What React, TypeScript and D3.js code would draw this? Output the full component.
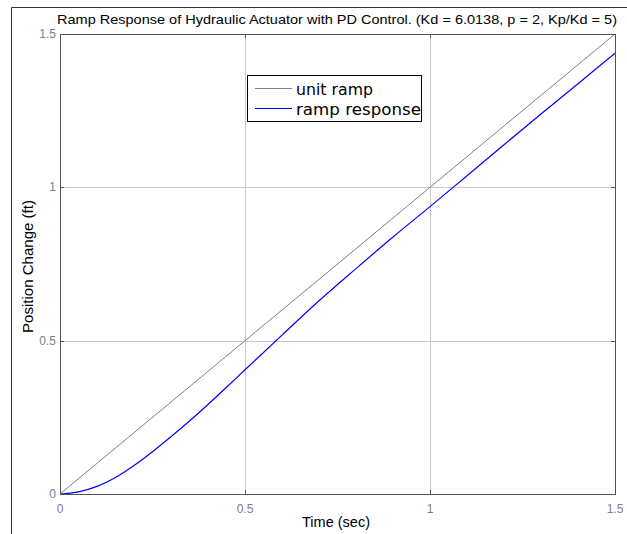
import React, { useEffect, useRef } from "react";
import * as d3 from "d3";

const title =
  "Ramp Response of Hydraulic Actuator with PD Control. (Kd = 6.0138, p = 2, Kp/Kd = 5)";
const xLabel = "Time (sec)";
const yLabel = "Position Change (ft)";

const xTicks = [0, 0.5, 1, 1.5];
const yTicks = [0, 0.5, 1, 1.5];

// unit ramp (input)
const rampT = [0, 1.5];
const rampY = [0, 1.5];

// ramp response
const respT = [0, 0.05, 0.1, 0.15, 0.2, 0.25, 0.3, 0.35, 0.4, 0.45, 0.5, 0.6, 0.7, 0.8, 0.9, 1.0, 1.1, 1.2, 1.3, 1.4, 1.5];
const respY = [0, 0.007, 0.025, 0.054, 0.093, 0.138, 0.187, 0.238, 0.292, 0.348, 0.405, 0.518, 0.63, 0.735, 0.838, 0.937, 1.038, 1.139, 1.239, 1.338, 1.437];

const legendNames = ["unit ramp", "ramp response"];
const legendColors = ["#808080", "#0000ff"];
const legendWidths = [77, 125];

const App = () => {
  const ref = useRef<SVGSVGElement>(null);

  useEffect(() => {
    const W = 627;
    const H = 534;
    const m = { left: 60, right: 615, top: 34, bottom: 494 };

    const svg = d3.select(ref.current);
    svg.selectAll("*").remove();

    const x = d3.scaleLinear().domain([0, 1.5]).range([m.left, m.right]);
    const y = d3.scaleLinear().domain([0, 1.5]).range([m.bottom, m.top]);

    svg.append("rect").attr("width", W).attr("height", H).attr("fill", "#fff");

    // figure frame (cropped)
    svg
      .append("path")
      .attr("d", `M11.5,${H} V7.5 H${W}`)
      .attr("fill", "none")
      .attr("stroke", "#333")
      .attr("stroke-width", 1);

    // grid
    const grid = svg.append("g").attr("stroke", "#c8c8c8").attr("stroke-width", 1);
    xTicks.slice(1, -1).forEach((t) => {
      grid
        .append("line")
        .attr("x1", Math.round(x(t)) + 0.5)
        .attr("x2", Math.round(x(t)) + 0.5)
        .attr("y1", m.top)
        .attr("y2", m.bottom);
    });
    yTicks.slice(1, -1).forEach((t) => {
      grid
        .append("line")
        .attr("y1", Math.round(y(t)) + 0.5)
        .attr("y2", Math.round(y(t)) + 0.5)
        .attr("x1", m.left)
        .attr("x2", m.right);
    });

    // lines
    const line = d3
      .line<[number, number]>()
      .x((d) => x(d[0]))
      .y((d) => y(d[1]));

    svg
      .append("path")
      .datum(rampT.map((t, i) => [t, rampY[i]] as [number, number]))
      .attr("d", line)
      .attr("fill", "none")
      .attr("stroke", legendColors[0])
      .attr("stroke-width", 1);

    svg
      .append("path")
      .datum(respT.map((t, i) => [t, respY[i]] as [number, number]))
      .attr("d", line.curve(d3.curveMonotoneX))
      .attr("fill", "none")
      .attr("stroke", legendColors[1])
      .attr("stroke-width", 1.2);

    // axes box
    svg
      .append("rect")
      .attr("x", m.left + 0.5)
      .attr("y", m.top + 0.5)
      .attr("width", m.right - m.left)
      .attr("height", m.bottom - m.top)
      .attr("fill", "none")
      .attr("stroke", "#555")
      .attr("stroke-width", 1);

    // inside ticks
    const ticks = svg.append("g").attr("stroke", "#555").attr("stroke-width", 1);
    xTicks.forEach((t) => {
      const px = Math.round(x(t)) + 0.5;
      ticks.append("line").attr("x1", px).attr("x2", px).attr("y1", m.bottom).attr("y2", m.bottom - 4);
      ticks.append("line").attr("x1", px).attr("x2", px).attr("y1", m.top).attr("y2", m.top + 4);
    });
    yTicks.forEach((t) => {
      const py = Math.round(y(t)) + 0.5;
      ticks.append("line").attr("x1", m.left).attr("x2", m.left + 4).attr("y1", py).attr("y2", py);
      ticks.append("line").attr("x1", m.right).attr("x2", m.right - 4).attr("y1", py).attr("y2", py);
    });

    const font = "Liberation Sans, Arial, sans-serif";

    // tick labels
    svg
      .append("g")
      .selectAll("text")
      .data(xTicks)
      .join("text")
      .attr("x", (d) => x(d))
      .attr("y", m.bottom + 19)
      .attr("text-anchor", "middle")
      .attr("font-family", font)
      .attr("font-size", 12)
      .attr("fill", "#808080")
      .text((d) => String(d));

    svg
      .append("g")
      .selectAll("text")
      .data(yTicks)
      .join("text")
      .attr("x", m.left - 4)
      .attr("y", (d) => y(d) + 4)
      .attr("text-anchor", "end")
      .attr("font-family", font)
      .attr("font-size", 12)
      .attr("fill", "#808080")
      .text((d) => String(d));

    // title & labels
    svg
      .append("text")
      .attr("x", 57)
      .attr("y", 24)
      .attr("font-family", font)
      .attr("font-size", 13.5)
      .attr("textLength", 560)
      .attr("lengthAdjust", "spacingAndGlyphs")
      .attr("fill", "#000")
      .text(title);

    svg
      .append("text")
      .attr("x", 302)
      .attr("y", 527)
      .attr("font-family", font)
      .attr("font-size", 14)
      .attr("textLength", 68)
      .attr("lengthAdjust", "spacingAndGlyphs")
      .attr("fill", "#000")
      .text(xLabel);

    svg
      .append("text")
      .attr("transform", `translate(33,333) rotate(-90)`)
      .attr("font-family", font)
      .attr("font-size", 14)
      .attr("textLength", 133)
      .attr("lengthAdjust", "spacingAndGlyphs")
      .attr("fill", "#000")
      .text(yLabel);

    // legend
    const lg = svg.append("g");
    lg.append("rect")
      .attr("x", 247.5)
      .attr("y", 75.5)
      .attr("width", 174)
      .attr("height", 46)
      .attr("fill", "#fff")
      .attr("stroke", "#000")
      .attr("stroke-width", 1);
    legendNames.forEach((name, i) => {
      const ly = 88.5 + i * 20;
      lg.append("line")
        .attr("x1", 255)
        .attr("x2", 292)
        .attr("y1", ly)
        .attr("y2", ly)
        .attr("stroke", legendColors[i])
        .attr("stroke-width", 1);
      lg.append("text")
        .attr("x", 296)
        .attr("y", ly + 6)
        .attr("font-family", "DejaVu Sans, Verdana, sans-serif")
        .attr("font-size", 15.5)
        .attr("textLength", legendWidths[i])
        .attr("lengthAdjust", "spacingAndGlyphs")
        .attr("fill", "#000")
        .text(name);
    });
  }, []);

  return (
    <svg
      ref={ref}
      width={627}
      height={534}
      style={{ display: "block", position: "absolute", left: 0, top: 0 }}
    />
  );
};

export default App;
